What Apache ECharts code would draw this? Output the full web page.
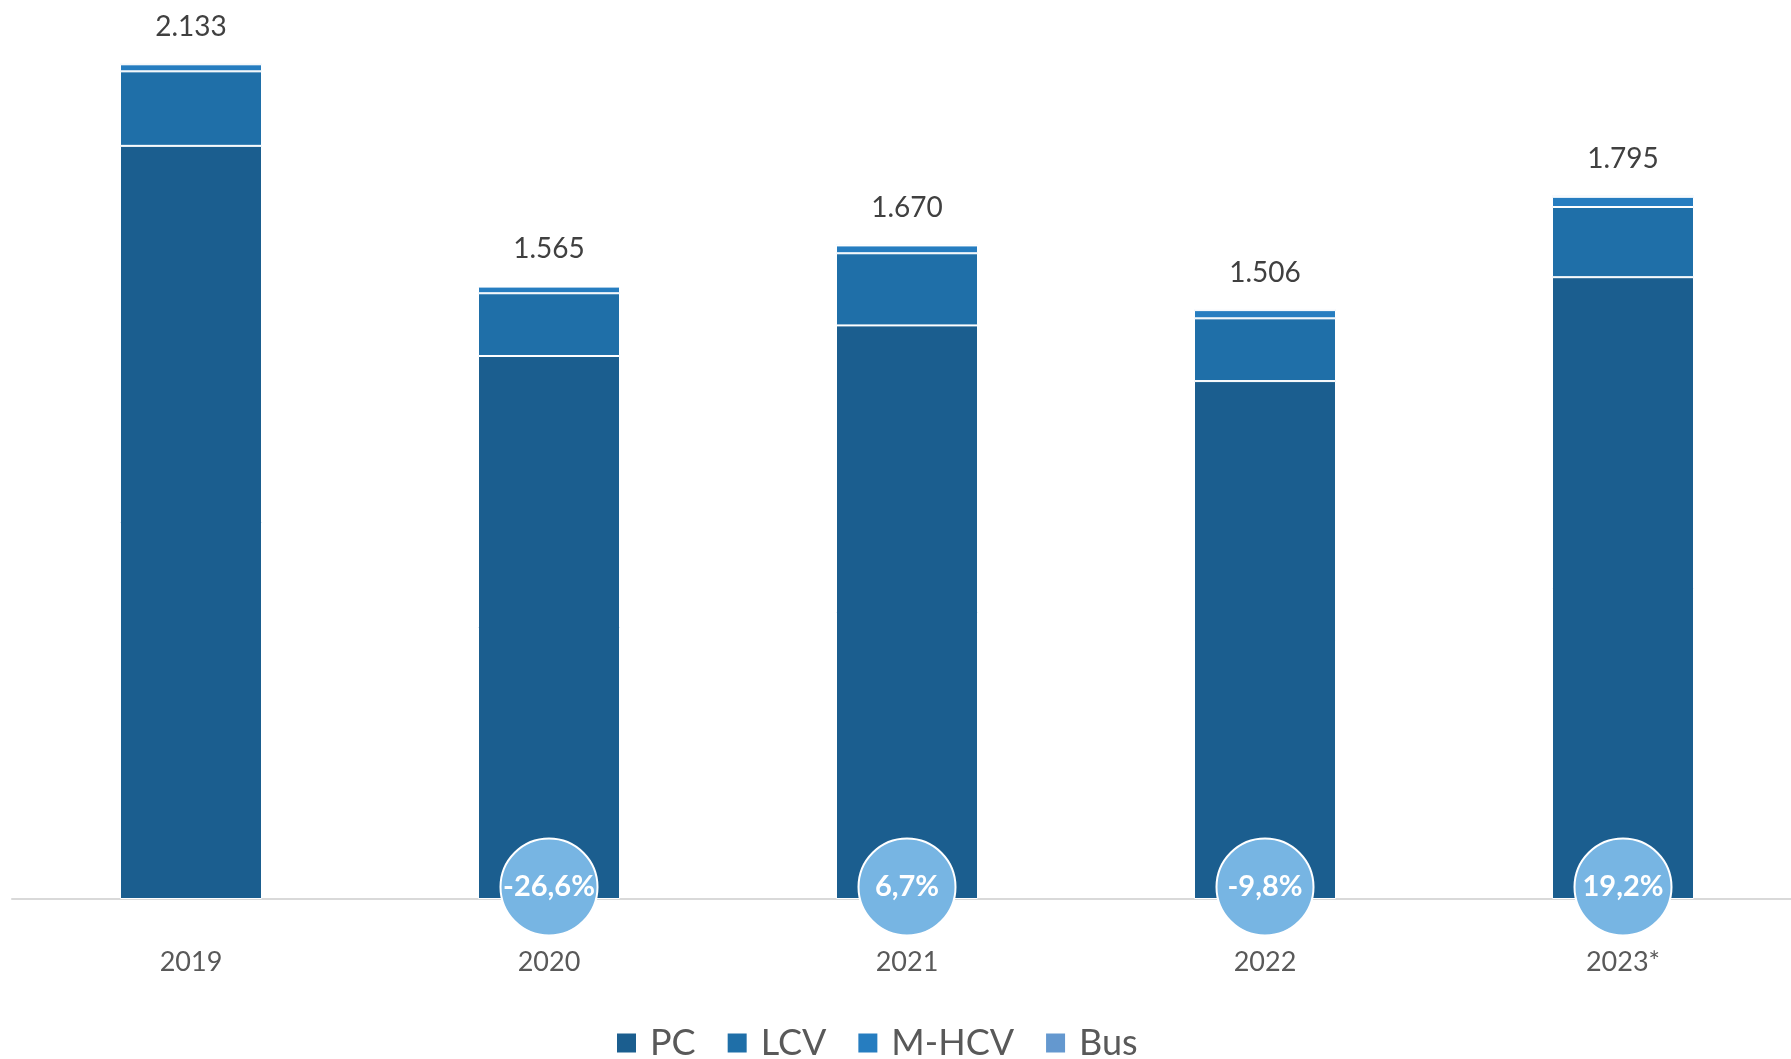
<!DOCTYPE html>
<html>
<head>
<meta charset="utf-8">
<script src="https://cdn.jsdelivr.net/npm/echarts@6/dist/echarts.min.js"></script>
<style>
html,body{margin:0;padding:0;background:#fff;overflow:hidden;width:1791px;height:1059px;}
#chart{width:1802px;height:1059px;}
</style>
</head>
<body>
<div id="chart"></div>
<script>
var years = ['2019', '2020', '2021', '2022', '2023*'];
var pc    = [1921, 1385, 1463, 1321, 1586];
var lcv   = [190, 160, 184, 160, 179];
var mhcv  = [18, 17, 20, 21, 26];
var bus   = [4, 3, 3, 4, 4];
var totals = ['2.133', '1.565', '1.670', '1.506', '1.795'];
var growth = ['', '-26,6%', '6,7%', '-9,8%', '19,2%'];

var FONT = 'Lato, "Open Sans", sans-serif';
var chart = echarts.init(document.getElementById('chart'));

function barSeries(name, data, color, extra) {
  var s = {
    name: name, type: 'bar', stack: 'total', data: data, barWidth: 142,
    itemStyle: { color: color, borderColor: '#ffffff', borderWidth: 1 },
    emphasis: { disabled: true }
  };
  if (extra) for (var k in extra) s[k] = extra[k];
  return s;
}

var growthData = [];
for (var i = 0; i < years.length; i++) {
  if (growth[i]) growthData.push({ value: [i, 0], label: { formatter: growth[i] } });
}

chart.setOption({
  backgroundColor: '#ffffff',
  animation: false,
  textStyle: { fontFamily: FONT },
  grid: { left: 12, right: 0, top: 0, bottom: 160 },
  xAxis: {
    type: 'category', data: years,
    axisLine: { lineStyle: { color: '#d9d9d9', width: 2 } },
    axisTick: { show: false },
    axisLabel: { color: '#595959', fontSize: 27, margin: 50, fontFamily: FONT }
  },
  yAxis: { type: 'value', min: 0, max: 2293, show: false, splitLine: { show: false } },
  legend: {
    data: ['PC', 'LCV', 'M-HCV', 'Bus'],
    left: 610, top: 1020,
    icon: 'rect', itemWidth: 21, itemHeight: 21, itemGap: 30,
    textStyle: { color: '#595959', fontSize: 36, fontFamily: FONT, padding: [0, 0, 0, 8] }
  },
  series: [
    barSeries('PC', pc, '#1b5e8f'),
    barSeries('LCV', lcv, '#1f6fa8'),
    barSeries('M-HCV', mhcv, '#267dc0'),
    barSeries('Bus', bus, '#6498cf', {
      label: {
        show: true, position: 'top', distance: 21,
        color: '#404040', fontSize: 28, lineHeight: 30, fontFamily: FONT,
        formatter: function (p) { return totals[p.dataIndex]; }
      }
    }),
    {
      name: 'growth', type: 'scatter', data: growthData, clip: false,
      symbol: 'circle', symbolSize: 97, symbolOffset: [0, -12], z: 10,
      itemStyle: { color: '#77b5e3', borderColor: '#ffffff', borderWidth: 2, opacity: 1 },
      label: {
        show: true, position: 'inside',
        color: '#ffffff', fontSize: 29, fontWeight: 'bold', fontFamily: FONT
      },
      emphasis: { disabled: true },
      tooltip: { show: false }
    }
  ]
});
</script>
</body>
</html>
